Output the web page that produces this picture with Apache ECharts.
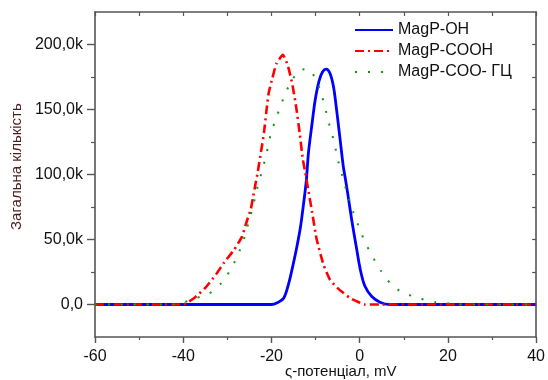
<!DOCTYPE html>
<html>
<head>
<meta charset="utf-8">
<script src="https://cdn.jsdelivr.net/npm/echarts@6/dist/echarts.min.js"></script>
<style>html,body{margin:0;padding:0;background:#fff}#c{width:548px;height:380px}</style>
</head>
<body>
<div id="c"></div>
<script>
// ---- data (x in mV, y in thousands) ----
const seriesNames = ['MagP-OH', 'MagP-COOH', 'MagP-COO- ГЦ'];

const ohX = [-60, -20, -18.7, -17.2, -16.1, -15.0, -14.2, -13.4, -12.7, -12.1, -11.6, -10.8, -10.1, -9.2, -8.4, -7.6, -6.7, -5.9, -5.2, -4.4, -3.7, -3.2, -2.6, -1.8, -0.7, 0.2, 1.2, 2.7, 4.6, 6.8, 40];
const ohY = [0, 0, 1.3, 5, 16, 32, 45, 60, 78, 95, 117, 139, 157, 172, 179, 181, 177.5, 167, 149, 126, 106, 96, 83, 65, 43, 26, 14, 6.4, 1.8, 0, 0];

const coohX = [-60, -40.1, -37.5, -35.0, -32.6, -30.7, -28.5, -26.7, -25.5, -24.7, -24.2, -23.6, -23.1, -22.2, -21.7, -21.0, -20.6, -19.8, -18.9, -17.4, -16.3, -15.3, -14.4, -13.6, -12.9, -12.3, -11.8, -10.8, -9.8, -8.2, -6.7, -4.8, -2.2, 0.1, 1.0, 40];
const coohY = [0, 0, 5, 12.8, 23, 32.4, 42, 52, 65, 73, 82, 93, 102, 121, 132, 153, 163, 174, 185, 192, 184, 170, 152, 132, 112, 101, 91, 71.5, 51, 30.6, 19, 12, 5, 1.3, 0, 0];

const cooX = [-60, -41, -39.7, -37, -34.1, -31.3, -29.4, -27.9, -26.8, -25.8, -25.1, -24.3, -23.6, -23.0, -22.1, -21.3, -20.7, -20.1, -19.1, -18.1, -17.0, -15.7, -13.8, -12.5, -11.1, -9.5, -8.6, -7.8, -7.1, -6.3, -5.6, -5.0, -4.2, -3.5, -2.6, -1.8, -0.7, 0.4, 1.7, 3.2, 4.9, 7.0, 9.7, 12.6, 14.5, 17.3, 20.3, 22, 40];
const cooY = [0, 0, 1.8, 5, 8.4, 16.6, 26, 35.8, 45, 55, 64.6, 74, 83.8, 93, 103, 113.6, 122.6, 132, 141.8, 151, 161, 170.6, 180, 181, 180, 170, 161, 151, 141, 131.6, 122, 112, 102.5, 93, 83.8, 74, 64.6, 54.5, 44.7, 35.2, 25.5, 16, 9, 5.9, 3.8, 1.8, 0.8, 0, 0];

const xTicks = [-60, -40, -20, 0, 20, 40];
const yTickValues = [0, 50000, 100000, 150000, 200000];
const yTickLabels = ['0,0', '50,0k', '100,0k', '150,0k', '200,0k'];
const yMinorValues = [25000, 75000, 125000, 175000];
const xName = 'ς-потенціал, mV';
const yName = 'Загальна кількість';

// ---- build ----
const pairs = (xs, ys) => xs.map((x, i) => [x, ys[i] * 1000]);
const FONT = "'Liberation Sans', Arial, sans-serif";
const AX = '#555';

const chart = echarts.init(document.getElementById('c'), null, {renderer: 'canvas'});
chart.setOption({
  animation: false,
  backgroundColor: '#fff',
  textStyle: {fontFamily: FONT},
  grid: {left: 95, right: 9, top: 12, bottom: 43, containLabel: false},
  legend: {
    orient: 'vertical', left: 349, top: 17, itemWidth: 38, itemHeight: 14, itemGap: 5,
    data: seriesNames,
    itemStyle: {opacity: 0},
    textStyle: {fontFamily: FONT, fontSize: 16, color: '#111'}
  },
  xAxis: [
    {
      type: 'value', position: 'bottom', min: -60, max: 40, interval: 20,
      axisLine: {show: true, onZero: false, lineStyle: {color: AX, width: 1.6}},
      axisTick: {show: true, inside: false, length: 6, lineStyle: {color: AX, width: 1.4}},
      minorTick: {show: true, splitNumber: 2, length: 3, lineStyle: {color: AX, width: 1.2}},
      axisLabel: {margin: 12, fontSize: 16, color: '#111', fontFamily: FONT,
        customValues: xTicks, formatter: v => String(v)},
      splitLine: {show: false}, minorSplitLine: {show: false}
    },
    {
      type: 'value', position: 'top', min: -60, max: 40, interval: 10,
      axisLine: {show: true, onZero: false, lineStyle: {color: AX, width: 1.6}},
      axisTick: {show: true, inside: true, length: 4, lineStyle: {color: AX, width: 1.2}},
      axisLabel: {show: false}, splitLine: {show: false}
    }
  ],
  yAxis: [
    {
      type: 'value', position: 'left', min: -25000, max: 225000,
      axisLine: {show: true, onZero: false, lineStyle: {color: AX, width: 1.6}},
      axisTick: {show: true, inside: false, length: 8, customValues: yTickValues, lineStyle: {color: AX, width: 1.4}},
      axisLabel: {margin: 12, fontSize: 16, color: '#111', fontFamily: FONT,
        customValues: yTickValues,
        formatter: v => { const i = yTickValues.indexOf(v); return i >= 0 ? yTickLabels[i] : ''; }},
      splitLine: {show: false}
    },
    {
      type: 'value', position: 'left', min: -25000, max: 225000,
      axisLine: {show: false, onZero: false},
      axisTick: {show: true, inside: false, length: 4, customValues: yMinorValues, lineStyle: {color: AX, width: 1.2}},
      axisLabel: {show: false}, splitLine: {show: false}
    },
    {
      type: 'value', position: 'right', min: -25000, max: 225000,
      axisLine: {show: true, onZero: false, lineStyle: {color: AX, width: 1.6}},
      axisTick: {show: true, inside: true, length: 4, customValues: yTickValues.concat(yMinorValues), lineStyle: {color: AX, width: 1.2}},
      axisLabel: {show: false}, splitLine: {show: false}
    }
  ],
  graphic: [
    {type: 'text', left: 285, top: 364, style: {text: xName, font: '15px ' + FONT, fill: '#111'}},
    {type: 'text', x: 9, y: 230, rotation: Math.PI / 2,
      style: {text: yName, font: '15px ' + FONT, fill: '#4a1c1c'}}
  ],
  series: [
    {name: seriesNames[0], type: 'line', xAxisIndex: 0, yAxisIndex: 0, symbol: 'none', smooth: 0.3,
      data: pairs(ohX, ohY), color: '#0000ff',
      lineStyle: {color: '#0000ff', width: 2.8, type: 'solid'}},
    {name: seriesNames[1], type: 'line', xAxisIndex: 0, yAxisIndex: 0, symbol: 'none', smooth: 0.15,
      data: pairs(coohX, coohY), color: '#ff0000',
      lineStyle: {color: '#ff0000', width: 2.6, type: [9, 4, 2, 4]}},
    {name: seriesNames[2], type: 'line', xAxisIndex: 0, yAxisIndex: 0, symbol: 'none', smooth: 0.15,
      data: pairs(cooX, cooY), color: '#119911',
      lineStyle: {color: '#119911', width: 2, type: [2, 11]}}
  ]
});
</script>
</body>
</html>
